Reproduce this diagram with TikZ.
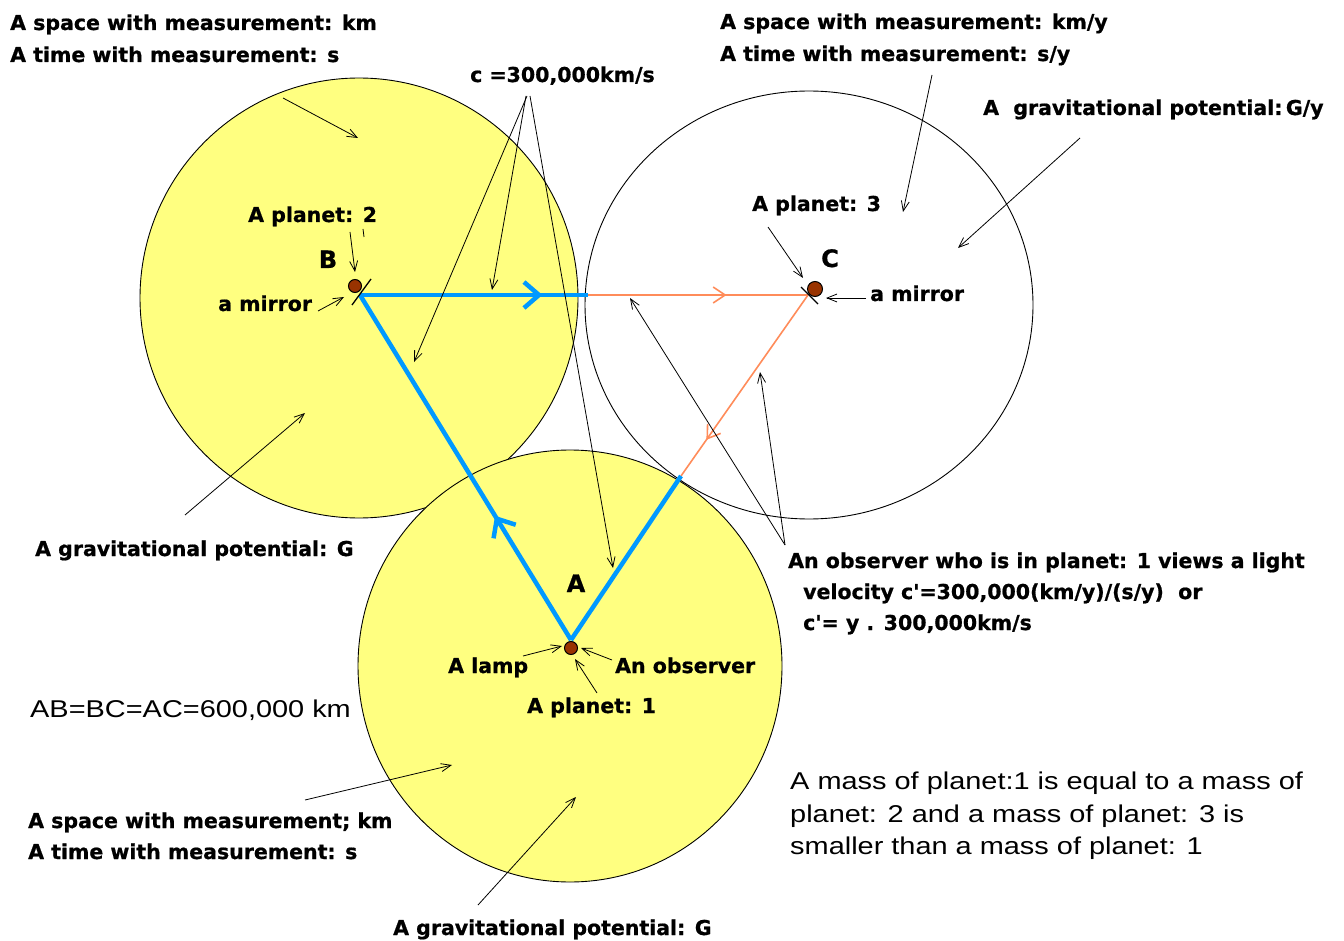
\documentclass[tikz,border=0pt]{standalone}
\usepackage{fontspec}
\setmainfont{DejaVu Sans}[BoldFeatures={FakeBold=0.8}]
\newfontfamily\arialf{Liberation Sans}[FakeStretch=1.19]
\usetikzlibrary{arrows.meta,decorations.markings}
\definecolor{pyellow}{RGB}{255,255,128}
\definecolor{lblue}{RGB}{0,153,255}
\definecolor{lorange}{RGB}{255,140,90}
\definecolor{pbrown}{RGB}{153,51,0}
\begin{document}
\begin{tikzpicture}[x=1pt,y=-1pt,
  lbl/.style={font=\bfseries\fontsize{20.5}{24}\selectfont, anchor=base west, inner sep=0pt},
  reg/.style={font=\arialf\fontsize{24.3}{28}\selectfont, anchor=base west, inner sep=0pt},
  letter/.style={font=\bfseries\fontsize{24}{28}\selectfont, anchor=base, inner sep=0pt},
  ann/.style={draw=black, line width=0.8pt, -{Straight Barb[length=10pt,width=8pt]}},
  world/.style={draw=black, line width=0.9pt},
  blueray/.style={draw=lblue, line width=4.5pt},
  orangeray/.style={draw=lorange, line width=1.6pt},
  planet/.style={circle, draw=black, line width=1pt, fill=pbrown, minimum size=13pt, inner sep=0pt},
  mirror/.style={draw=black, line width=1.3pt}
]
\useasboundingbox[fill=white] (0,0) rectangle (1344,941);

% worlds
\path[world, fill=pyellow] (359,298) ellipse [x radius=219pt, y radius=220pt];
\path[world, fill=pyellow] (570,666) ellipse [x radius=212pt, y radius=216pt];
\path[world] (809,305) ellipse [x radius=224pt, y radius=214pt];

% key points
\coordinate (B) at (360,295);
\coordinate (C) at (808,295);
\coordinate (A) at (571,640);
\coordinate (X) at (588,295);
\coordinate (Y) at (681,476);

% rays
\draw[blueray, postaction={decorate}, decoration={markings, mark=at position 0.80 with {\arrow[line width=4.5pt]{Straight Barb[length=15pt,width=26pt]}}}] (B) -- (X);
\draw[orangeray, postaction={decorate}, decoration={markings, mark=at position 0.63 with {\arrow[line width=1.6pt]{Straight Barb[length=12pt,width=16pt]}}}] (X) -- (C);
\draw[blueray, postaction={decorate}, decoration={markings, mark=at position 0.36 with {\arrow[line width=4.5pt]{Straight Barb[length=15pt,width=26pt]}}}] (A) -- (B);
\draw[orangeray, postaction={decorate}, decoration={markings, mark=at position 0.80 with {\arrow[line width=1.6pt]{Straight Barb[length=12pt,width=16pt]}}}] (C) -- (Y);
\draw[blueray] (Y) -- (A);

% mirrors and planets
\coordinate (mB1) at (352,305); \coordinate (mB2) at (371,279);
\draw[mirror] (mB1) -- (mB2);
\coordinate (mC1) at (801,287); \coordinate (mC2) at (818,304);
\draw[mirror] (mC1) -- (mC2);
\node[planet] (pB) at (355,286) {};
\node[planet, minimum width=13pt, minimum height=15pt] (pC) at (815,289) {};
\node[planet] (pA) at (571,648) {};

% texts
\node[lbl] (tl1) at (10,30) {A space with measurement: km};
\node[lbl] (tl2) at (10,62) {A time with measurement: s};
\node[lbl] (tr1) at (720,29) {A space with measurement: km/y};
\node[lbl] (tr2) at (720,61) {A time with measurement: s/y};
\node[lbl] (gy) at (983,115) {A\ \ gravitational potential:\,G/y};
\node[lbl] (cv) at (470,82) {c =300,000km/s};
\node[lbl] (p2) at (248,222) {A planet: 2};
\node[letter] (lB) at (328,268) {B};
\node[lbl] (mirB) at (218,311) {a mirror};
\node[lbl] (p3) at (752,211) {A planet: 3};
\node[letter] (lC) at (830,267) {C};
\node[lbl] (mirC) at (870,301) {a mirror};
\node[lbl] (gl) at (35,556) {A gravitational potential: G};
\node[lbl] (ob1) at (788,568) {An observer who is in planet: 1 views a light};
\node[lbl] (ob2) at (803,599) {velocity c\textquotesingle=300,000(km/y)/(s/y)\ \ or};
\node[lbl] (ob3) at (803,630) {c\textquotesingle= y . 300,000km/s};
\node[letter] (lA) at (576,592) {A};
\node[lbl] (lamp) at (448,673) {A lamp};
\node[lbl] (obs) at (615,673) {An observer};
\node[lbl] (p1) at (527,713) {A planet: 1};
\node[reg] (ab) at (30,717) {AB=BC=AC=600,000 km};
\node[lbl] (bl1) at (28,828) {A space with measurement; km};
\node[lbl] (bl2) at (28,859) {A time with measurement: s};
\node[lbl] (gb) at (393,935) {A gravitational potential: G};
\node[reg] (m1) at (790,789) {A mass of planet:1 is equal to a mass of};
\node[reg] (m2) at (790,822) {planet: 2 and a mass of planet: 3 is};
\node[reg] (m3) at (790,854) {smaller than a mass of planet: 1};

% annotation arrows
\coordinate (t1) at (283,98); \coordinate (h1) at (358,138);
\draw[ann] (t1) -- (h1);
\coordinate (cA) at (527,96); \coordinate (cB) at (526,96); \coordinate (cC) at (530,96);
\coordinate (h2a) at (414,362); \coordinate (h2b) at (492,290); \coordinate (h2c) at (613,568);
\draw[ann] (cA) -- (h2a);
\draw[ann] (cB) -- (h2b);
\draw[ann] (cC) -- (h2c);
\coordinate (t3) at (932,75); \coordinate (h3) at (903,212);
\draw[ann] (t3) -- (h3);
\coordinate (t4) at (1080,138); \coordinate (h4) at (958,248);
\draw[ann] (t4) -- (h4);
\coordinate (t5) at (768,227); \coordinate (h5) at (803,278);
\draw[ann] (t5) -- (h5);
\coordinate (t6) at (866,298); \coordinate (h6) at (826,298);
\draw[ann] (t6) -- (h6);
\coordinate (t7) at (350,232); \coordinate (h7) at (355,272);
\draw[ann] (t7) -- (h7);
\coordinate (k1) at (363,229); \coordinate (k2) at (364,237);
\draw[line width=0.8pt] (k1) -- (k2);
\coordinate (t8) at (318,311); \coordinate (h8) at (344,297);
\draw[ann] (t8) -- (h8);
\coordinate (t9) at (185,515); \coordinate (h9) at (305,413);
\draw[ann] (t9) -- (h9);
\coordinate (t10) at (785,545); \coordinate (h10a) at (630,298); \coordinate (h10b) at (760,372);
\draw[ann] (t10) -- (h10a);
\draw[ann] (t10) -- (h10b);
\coordinate (t11) at (523,656); \coordinate (h11) at (562,646);
\draw[ann] (t11) -- (h11);
\coordinate (t12) at (612,660); \coordinate (h12) at (581,648);
\draw[ann] (t12) -- (h12);
\coordinate (t13) at (597,693); \coordinate (h13) at (575,659);
\draw[ann] (t13) -- (h13);
\coordinate (t14) at (305,800); \coordinate (h14) at (452,765);
\draw[ann] (t14) -- (h14);
\coordinate (t15) at (478,905); \coordinate (h15) at (576,797);
\draw[ann] (t15) -- (h15);
\end{tikzpicture}
\end{document}
